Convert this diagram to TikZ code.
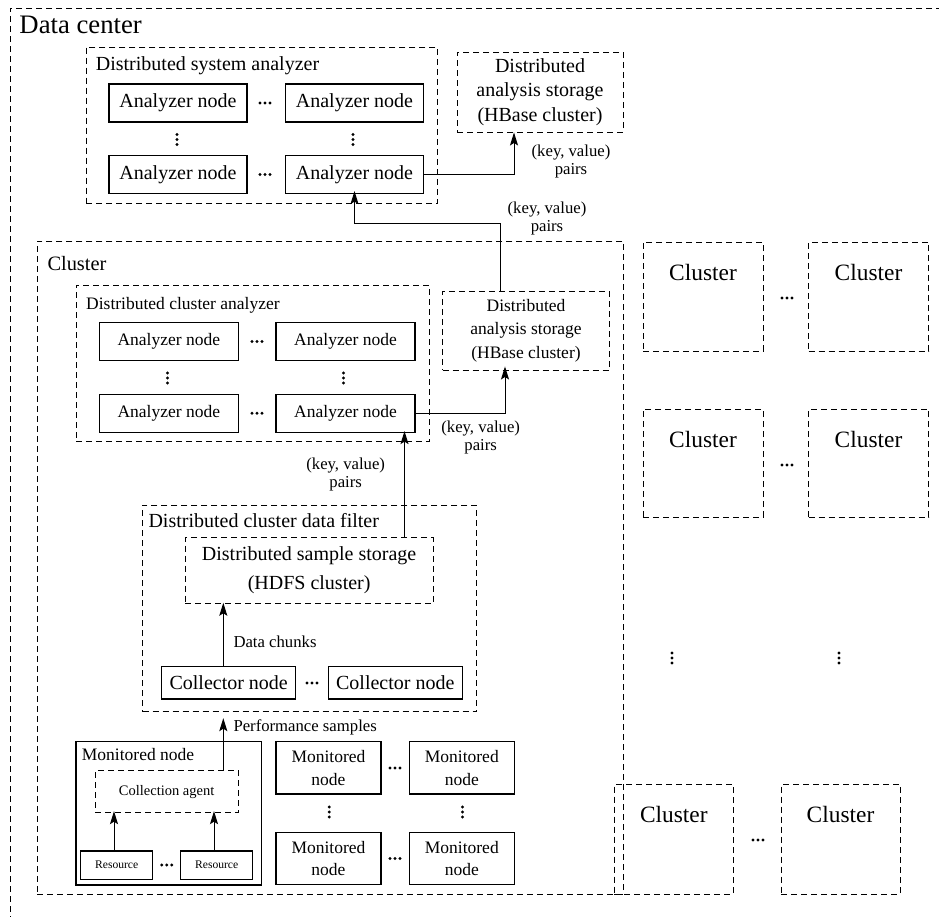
\documentclass[tikz,border=0pt]{standalone}
\usepackage{fontspec}
\setmainfont{Liberation Serif}
\usetikzlibrary{arrows.meta,calc}
\begin{document}
\begin{tikzpicture}[x=1pt,y=-1pt,
  dbox/.style={draw, dash pattern=on 6pt off 4pt, line width=0.9pt, inner sep=0pt, align=center},
  sbox/.style={draw, line width=1.2pt, inner sep=0pt, align=center},
  txt/.style={inner sep=0pt, align=center},
  arr/.style={line width=1pt, -{Stealth[length=13pt,width=8pt,inset=2.5pt]}},
  fbig/.style={font=\fontsize{26.7}{30}\selectfont},
  fA/.style={font=\fontsize{20}{24.5}\selectfont},
  fB/.style={font=\fontsize{17.5}{23.5}\selectfont},
  fkv/.style={font=\fontsize{16.7}{18}\selectfont},
  fcl/.style={font=\fontsize{23.4}{26}\selectfont},
  anode/.style={sbox, fA, minimum width=138pt, minimum height=38pt},
  bnode/.style={sbox, fB, minimum width=139pt, minimum height=38.4pt},
  cnode/.style={sbox, fA, minimum width=134pt, minimum height=32.3pt},
  mnode/.style={sbox, font=\fontsize{17.5}{22.3}\selectfont, minimum width=105pt, minimum height=52.3pt},
  rnode/.style={sbox, font=\fontsize{11.6}{13}\selectfont, minimum width=72pt, minimum height=28.3pt},
  rclus/.style={dbox, minimum width=120pt, minimum height=109pt},
  hdotpic/.pic={\fill (-5,0) circle[radius=1.6pt] (0,0) circle[radius=1.6pt] (5,0) circle[radius=1.6pt];},
  vdotpic/.pic={\fill (0,-5) circle[radius=1.6pt] (0,0) circle[radius=1.6pt] (0,5) circle[radius=1.6pt];}
]
\useasboundingbox (0,0) rectangle (939,916);
\clip (0,0) rectangle (939,916);

% Data center
\node[dbox, minimum width=970pt, minimum height=952pt] (dc) at (495,484) {};
\node[txt, fbig, anchor=base west] (dct) at (19.3,33) {Data center};

% Distributed system analyzer
\node[dbox, minimum width=351.7pt, minimum height=156pt] (dsa) at (261.85,125) {};
\node[txt, fA, anchor=base west] (dsat) at (95.7,70) {Distributed system analyzer};
\node[anode] (a11) at (178,103) {Analyzer node};
\node[anode] (a12) at (354.5,103) {Analyzer node};
\node[anode] (a21) at (178,174.5) {Analyzer node};
\node[anode] (a22) at (354.5,174.5) {Analyzer node};
\pic at (265,103) {hdotpic};
\pic at (265,174.5) {hdotpic};
\pic at (177,139.5) {vdotpic};
\pic at (353,139.5) {vdotpic};

% Top storage
\node[dbox, fA, minimum width=166pt, minimum height=80pt] (ts) at (540,92)
  {Distributed\\analysis storage\\(HBase cluster)};

% Main cluster
\node[dbox, minimum width=586pt, minimum height=653pt] (cl) at (330.3,567.5) {};
\node[txt, font=\fontsize{20.4}{24}\selectfont, anchor=base west] (clt) at (47.3,270) {Cluster};

% Distributed cluster analyzer
\node[dbox, minimum width=353pt, minimum height=156.7pt] (dca) at (252.5,363.35) {};
\node[txt, fB, anchor=base west] (dcat) at (86,309) {Distributed cluster analyzer};
\node[bnode] (b11) at (168.8,341.5) {Analyzer node};
\node[bnode] (b12) at (345.5,341.5) {Analyzer node};
\node[bnode] (b21) at (168.8,413.3) {Analyzer node};
\node[bnode] (b22) at (345.5,413.3) {Analyzer node};
\pic at (257,341.5) {hdotpic};
\pic at (257,413.3) {hdotpic};
\pic at (167.5,378) {vdotpic};
\pic at (343.5,378) {vdotpic};

% Cluster storage
\node[dbox, fB, minimum width=166.6pt, minimum height=79pt] (cs) at (526,330.5)
  {Distributed\\analysis storage\\(HBase cluster)};

% Filter
\node[dbox, minimum width=334pt, minimum height=206.7pt] (fl) at (309.7,608.35) {};
\node[txt, fA, anchor=base west] (flt) at (148.3,527.3) {Distributed cluster data filter};
\node[dbox, font=\fontsize{20}{29.3}\selectfont, minimum width=248.3pt, minimum height=65.6pt] (ss) at (309.15,570.5)
  {Distributed sample storage\\(HDFS cluster)};
\node[cnode] (c1) at (228.7,682.9) {Collector node};
\node[cnode] (c2) at (395.3,682.9) {Collector node};
\pic at (312,683) {hdotpic};

% Monitored node (detailed)
\node[sbox, minimum width=185.7pt, minimum height=143.3pt] (mn) at (168.85,813.35) {};
\node[txt, fB, anchor=base west] (mnt) at (81.7,760) {Monitored node};
\node[dbox, font=\fontsize{14.5}{17}\selectfont, minimum width=143.3pt, minimum height=42pt] (ca) at (166.65,791.7) {Collection agent};
\node[rnode] (r1) at (116.7,865.2) {Resource};
\node[rnode] (r2) at (216.7,865.2) {Resource};
\pic at (166.7,865) {hdotpic};

% Other monitored nodes
\node[mnode] (m11) at (328.5,767.9) {Monitored\\node};
\node[mnode] (m12) at (461.8,767.9) {Monitored\\node};
\node[mnode] (m21) at (328.5,858.7) {Monitored\\node};
\node[mnode] (m22) at (461.8,858.7) {Monitored\\node};
\pic at (395,768) {hdotpic};
\pic at (395,858.5) {hdotpic};
\pic at (329.3,812) {vdotpic};
\pic at (462.5,812) {vdotpic};

% Other clusters
\node[rclus] (k11) at (703,296.5) {};
\node[rclus] (k12) at (868.5,296.5) {};
\node[rclus, minimum height=108pt] (k21) at (703,463) {};
\node[rclus, minimum height=108pt] (k22) at (868.5,463) {};
\node[rclus, minimum width=119pt, minimum height=109.7pt] (k31) at (673.8,839.15) {};
\node[rclus, minimum width=119pt, minimum height=109.7pt] (k32) at (840.5,839.15) {};
\foreach \k in {k11,k12,k21,k22,k31,k32}{
  \node[txt, fcl] (\k t) at ($(\k.north)+(0,31)$) {Cluster};
}
\pic at (787,298) {hdotpic};
\pic at (787,465) {hdotpic};
\pic at (758,840) {hdotpic};
\pic at (672,658) {vdotpic};
\pic at (839,658) {vdotpic};

% Connectors
\coordinate (j0) at (514,0);
\coordinate (j1) at (500,223);
\coordinate (j2) at (505,0);
\coordinate (j3) at (404.5,0);
\coordinate (j4) at (223.3,0);

\draw[arr] (a22.east) -| (j0 |- ts.south);
\draw[arr, shorten >=-3pt] (cs.north -| j1) -- (j1) -| (a22.south);
\draw[arr, shorten >=-4pt] (b22.east) -| (j2 |- cs.south);
\draw[arr, shorten >=-2pt] (j3 |- ss.north) -- (j3 |- b22.south);
\draw[arr, shorten >=-1pt] (j4 |- c1.north) -- (j4 |- ss.south);
\draw[arr, shorten >=6pt] (j4 |- ca.north) -- (j4 |- fl.south);
\draw[arr, shorten >=-2pt] ($(r1.north)+(-2.7,0)$) -- ($(r1.north |- ca.south)+(-2.7,0)$);
\draw[arr, shorten >=-2pt] ($(r2.north)+(-2.7,0)$) -- ($(r2.north |- ca.south)+(-2.7,0)$);

% Connector labels
\node[txt, fkv] (kv1) at (571,161) {(key, value)\\pairs};
\node[txt, fkv] (kv2) at (547,218) {(key, value)\\pairs};
\node[txt, fkv] (kv3) at (480.7,437.2) {(key, value)\\pairs};
\node[txt, fkv] (kv4) at (345.7,474.5) {(key, value)\\pairs};
\node[txt, fkv, anchor=west] (dcl) at (233.3,641.7) {Data chunks};
\node[txt, fkv, anchor=west] (psl) at (233.3,727.3) {Performance samples};
\end{tikzpicture}
\end{document}
